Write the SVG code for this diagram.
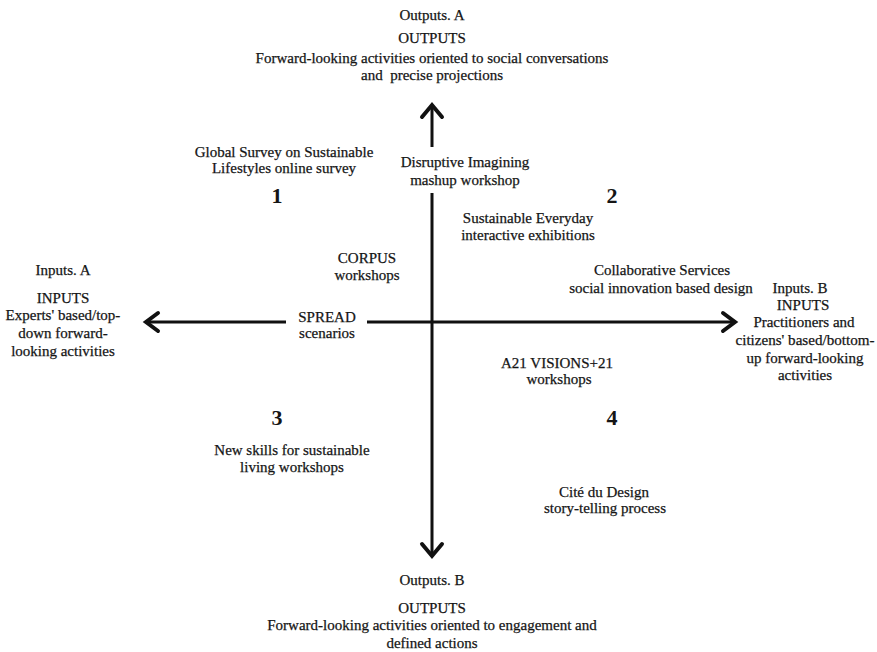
<svg xmlns="http://www.w3.org/2000/svg" width="877" height="652" viewBox="0 0 877 652">
  <style>
    text { font-family: "Liberation Serif", "Times New Roman", serif; font-size: 15px; fill: #151515; stroke: #151515; stroke-width: 0.25; text-anchor: middle; }
    .num { font-size: 22px; font-weight: bold; stroke-width: 0; }
    .pre { white-space: pre; }
    .axis { stroke: #111; stroke-width: 3; fill: none; }
    .head { stroke: #111; stroke-width: 4; fill: none; stroke-linecap: round; stroke-linejoin: miter; }
  </style>
  <rect width="877" height="652" fill="#ffffff"/>

  <!-- Axes: split where labels sit on them, open chevron heads at the ends -->
  <g id="connectors">
    <line class="axis" x1="432" y1="105" x2="432" y2="147"/>
    <polyline class="head" points="422,117 432,105 442,117"/>
    <line class="axis" x1="432" y1="193" x2="432" y2="556"/>
    <polyline class="head" points="422,544 432,556 442,544"/>
    <line class="axis" x1="146" y1="322" x2="286" y2="322"/>
    <polyline class="head" points="158,313 146,322 158,331"/>
    <line class="axis" x1="367" y1="322" x2="735" y2="322"/>
    <polyline class="head" points="723,313 735,322 723,331"/>
  </g>

  <g id="outputs-a">
    <text x="432" y="20">Outputs. A</text>
    <text x="432" y="43">OUTPUTS</text>
    <text x="432" y="63">Forward-looking activities oriented to social conversations</text>
    <text class="pre" x="432" y="80">and  precise projections</text>
  </g>

  <g id="outputs-b">
    <text x="432" y="585">Outputs. B</text>
    <text x="432" y="613">OUTPUTS</text>
    <text x="432" y="630">Forward-looking activities oriented to engagement and</text>
    <text x="432" y="648">defined actions</text>
  </g>

  <g id="inputs-a">
    <text x="63" y="275">Inputs. A</text>
    <text x="63" y="303">INPUTS</text>
    <text x="63" y="320">Experts' based/top-</text>
    <text x="63" y="338">down forward-</text>
    <text x="63" y="356">looking activities</text>
  </g>

  <g id="inputs-b">
    <text x="800" y="293">Inputs. B</text>
    <text x="803" y="310">INPUTS</text>
    <text x="804" y="327">Practitioners and</text>
    <text x="805" y="345" textLength="139" lengthAdjust="spacingAndGlyphs">citizens' based/bottom-</text>
    <text x="805" y="363">up forward-looking</text>
    <text x="805" y="380">activities</text>
  </g>

  <g id="quadrant-numbers">
    <text class="num" x="277" y="203">1</text>
    <text class="num" x="612" y="203">2</text>
    <text class="num" x="277" y="425">3</text>
    <text class="num" x="612" y="425">4</text>
  </g>

  <g id="global-survey">
    <text x="284" y="157">Global Survey on Sustainable</text>
    <text x="284" y="173">Lifestyles online survey</text>
  </g>

  <g id="disruptive-imagining">
    <text x="465" y="167">Disruptive Imagining</text>
    <text x="465" y="185">mashup workshop</text>
  </g>

  <g id="sustainable-everyday">
    <text x="528" y="223">Sustainable Everyday</text>
    <text x="528" y="240">interactive exhibitions</text>
  </g>

  <g id="corpus">
    <text x="367" y="263">CORPUS</text>
    <text x="367" y="280">workshops</text>
  </g>

  <g id="collaborative-services">
    <text x="662" y="275">Collaborative Services</text>
    <text x="661" y="293">social innovation based design</text>
  </g>

  <g id="spread">
    <text x="327" y="322">SPREAD</text>
    <text x="327" y="338">scenarios</text>
  </g>

  <g id="a21-visions">
    <text x="557" y="368">A21 VISIONS+21</text>
    <text x="559" y="384">workshops</text>
  </g>

  <g id="new-skills">
    <text x="292" y="455">New skills for sustainable</text>
    <text x="292" y="472">living workshops</text>
  </g>

  <g id="cite-du-design">
    <text x="604" y="497">Cité du Design</text>
    <text x="605" y="513">story-telling process</text>
  </g>
</svg>
